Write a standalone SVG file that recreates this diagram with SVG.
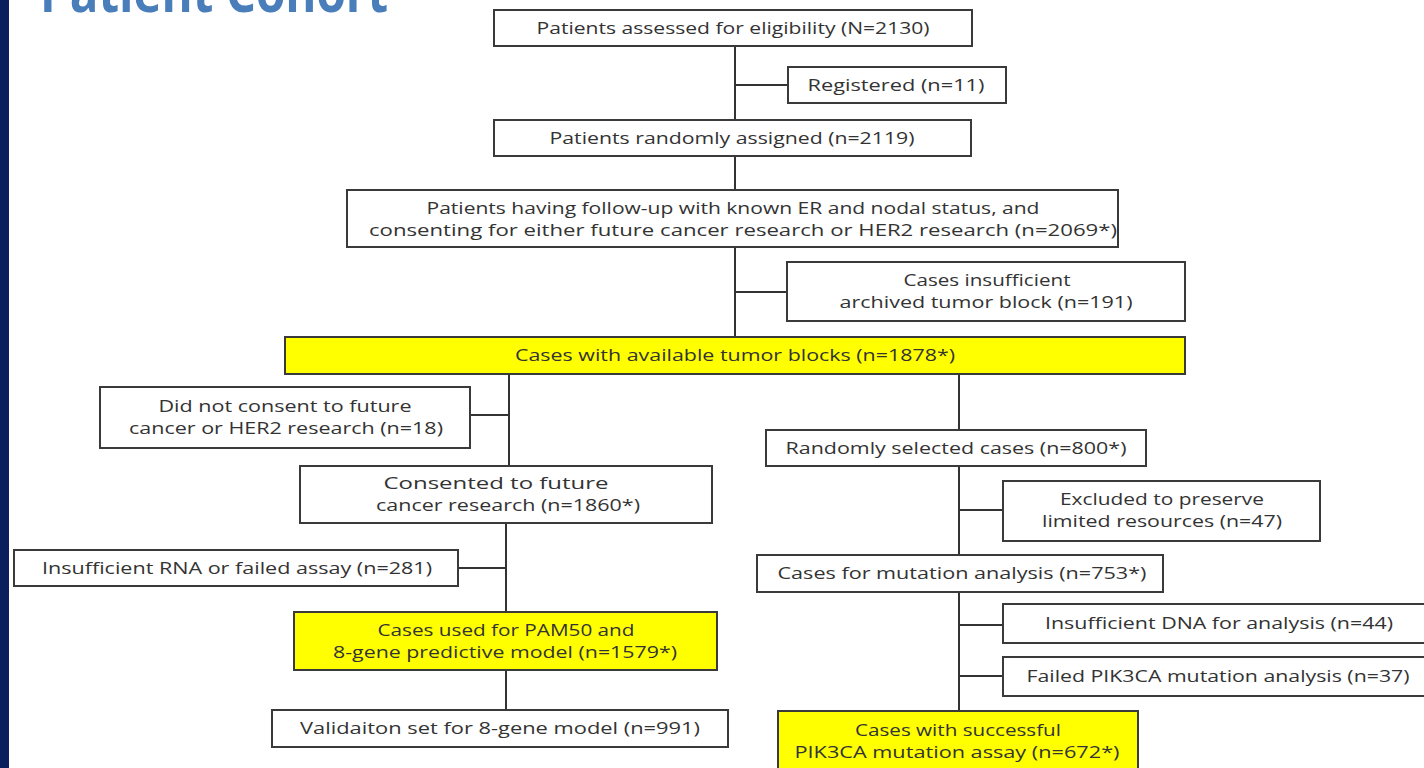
<svg xmlns="http://www.w3.org/2000/svg" width="1424" height="768" viewBox="0 0 1424 768">
<style>
.box{fill:#ffffff;stroke:#3a3a3a;stroke-width:2}
.hl{fill:#ffff00;stroke:#3a3a3a;stroke-width:2}
.t{font-family:"Open Sans","Liberation Sans",sans-serif;font-size:16.5px;fill:#333333;text-anchor:middle}
.ln{stroke:#333333;stroke-width:2;fill:none}
</style>
<rect x="0" y="0" width="1424" height="768" fill="#ffffff"/>
<rect x="0" y="0" width="9" height="768" fill="#0b1f5c"/>
<text x="40" y="12" font-family="'Open Sans','Liberation Sans',sans-serif" font-weight="bold" font-size="56" fill="#4a7ebb" textLength="348" lengthAdjust="spacingAndGlyphs">Patient Cohort</text>

<g id="connectors">
<path class="ln" d="M735 46 V120 M735 85 H788 M735 156 V190 M735 247 V337 M735 292 H787"/>
<path class="ln" d="M509 374 V466 M470 415 H509 M506 523 V612 M458 568 H506 M506 670 V710"/>
<path class="ln" d="M959 374 V430 M959 466 V555 M959 510 H1003 M959 592 V711 M959 625 H1003 M959 676 H1003"/>
</g>

<g id="n1"><rect class="box" x="494" y="10" width="478" height="36"/>
<text class="t" x="733" y="34" textLength="393" lengthAdjust="spacingAndGlyphs">Patients assessed for eligibility (N=2130)</text></g>

<g id="n2"><rect class="box" x="788" y="67" width="218" height="36"/>
<text class="t" x="896" y="91" textLength="177" lengthAdjust="spacingAndGlyphs">Registered  (n=11)</text></g>

<g id="n3"><rect class="box" x="494" y="120" width="477" height="36"/>
<text class="t" x="732" y="144" textLength="365" lengthAdjust="spacingAndGlyphs">Patients randomly assigned  (n=2119)</text></g>

<g id="n4"><rect class="box" x="347" y="190" width="771" height="57"/>
<text class="t" x="733" y="214" textLength="613" lengthAdjust="spacingAndGlyphs">Patients having follow-up with known ER and nodal status, and</text>
<text class="t" x="743" y="236" textLength="748" lengthAdjust="spacingAndGlyphs">consenting for either future cancer research or HER2 research  (n=2069*)</text></g>

<g id="n5"><rect class="box" x="787" y="262" width="398" height="59"/>
<text class="t" x="987" y="286" textLength="167" lengthAdjust="spacingAndGlyphs">Cases insufficient</text>
<text class="t" x="986" y="308" textLength="293" lengthAdjust="spacingAndGlyphs">archived tumor block  (n=191)</text></g>

<g id="n6"><rect class="hl" x="285" y="337" width="900" height="37"/>
<text class="t" x="735" y="361" textLength="440" lengthAdjust="spacingAndGlyphs">Cases with available tumor blocks  (n=1878*)</text></g>

<g id="n7"><rect class="box" x="100" y="387" width="370" height="61"/>
<text class="t" x="285" y="412" textLength="253" lengthAdjust="spacingAndGlyphs">Did not consent to future</text>
<text class="t" x="286" y="434" textLength="314" lengthAdjust="spacingAndGlyphs">cancer  or HER2 research  (n=18)</text></g>

<g id="n8"><rect class="box" x="300" y="466" width="412" height="57"/>
<text class="t" x="496" y="489" textLength="225" lengthAdjust="spacingAndGlyphs">Consented to future</text>
<text class="t" x="508" y="511" textLength="264" lengthAdjust="spacingAndGlyphs">cancer research (n=1860*)</text></g>

<g id="n9"><rect class="box" x="14" y="550" width="444" height="36"/>
<text class="t" x="237" y="574" textLength="390" lengthAdjust="spacingAndGlyphs">Insufficient RNA or failed assay   (n=281)</text></g>

<g id="n10"><rect class="hl" x="294" y="612" width="423" height="58"/>
<text class="t" x="506" y="636" textLength="257" lengthAdjust="spacingAndGlyphs">Cases used for PAM50 and</text>
<text class="t" x="505" y="658" textLength="344" lengthAdjust="spacingAndGlyphs">8-gene predictive model (n=1579*)</text></g>

<g id="n11"><rect class="box" x="272" y="710" width="456" height="37"/>
<text class="t" x="500" y="734" textLength="400" lengthAdjust="spacingAndGlyphs">Validaiton set for 8-gene model   (n=991)</text></g>

<g id="n12"><rect class="box" x="766" y="430" width="380" height="36"/>
<text class="t" x="956" y="454" textLength="341" lengthAdjust="spacingAndGlyphs">Randomly selected cases  (n=800*)</text></g>

<g id="n13"><rect class="box" x="1003" y="481" width="317" height="60"/>
<text class="t" x="1162" y="505" textLength="204" lengthAdjust="spacingAndGlyphs">Excluded to preserve</text>
<text class="t" x="1162" y="527" textLength="240" lengthAdjust="spacingAndGlyphs">limited resources (n=47)</text></g>

<g id="n14"><rect class="box" x="757" y="555" width="406" height="37"/>
<text class="t" x="962" y="579" textLength="369" lengthAdjust="spacingAndGlyphs">Cases for mutation analysis  (n=753*)</text></g>

<g id="n15"><rect class="box" x="1003" y="604" width="430" height="39"/>
<text class="t" x="1219" y="629" textLength="348" lengthAdjust="spacingAndGlyphs">Insufficient DNA for analysis  (n=44)</text></g>

<g id="n16"><rect class="box" x="1003" y="657" width="430" height="39"/>
<text class="t" x="1218" y="682" textLength="383" lengthAdjust="spacingAndGlyphs">Failed PIK3CA mutation analysis  (n=37)</text></g>

<g id="n17"><rect class="hl" x="778" y="711" width="360" height="70"/>
<text class="t" x="958" y="736" textLength="206" lengthAdjust="spacingAndGlyphs">Cases with successful</text>
<text class="t" x="957" y="758" textLength="325" lengthAdjust="spacingAndGlyphs">PIK3CA mutation assay   (n=672*)</text></g>
</svg>
